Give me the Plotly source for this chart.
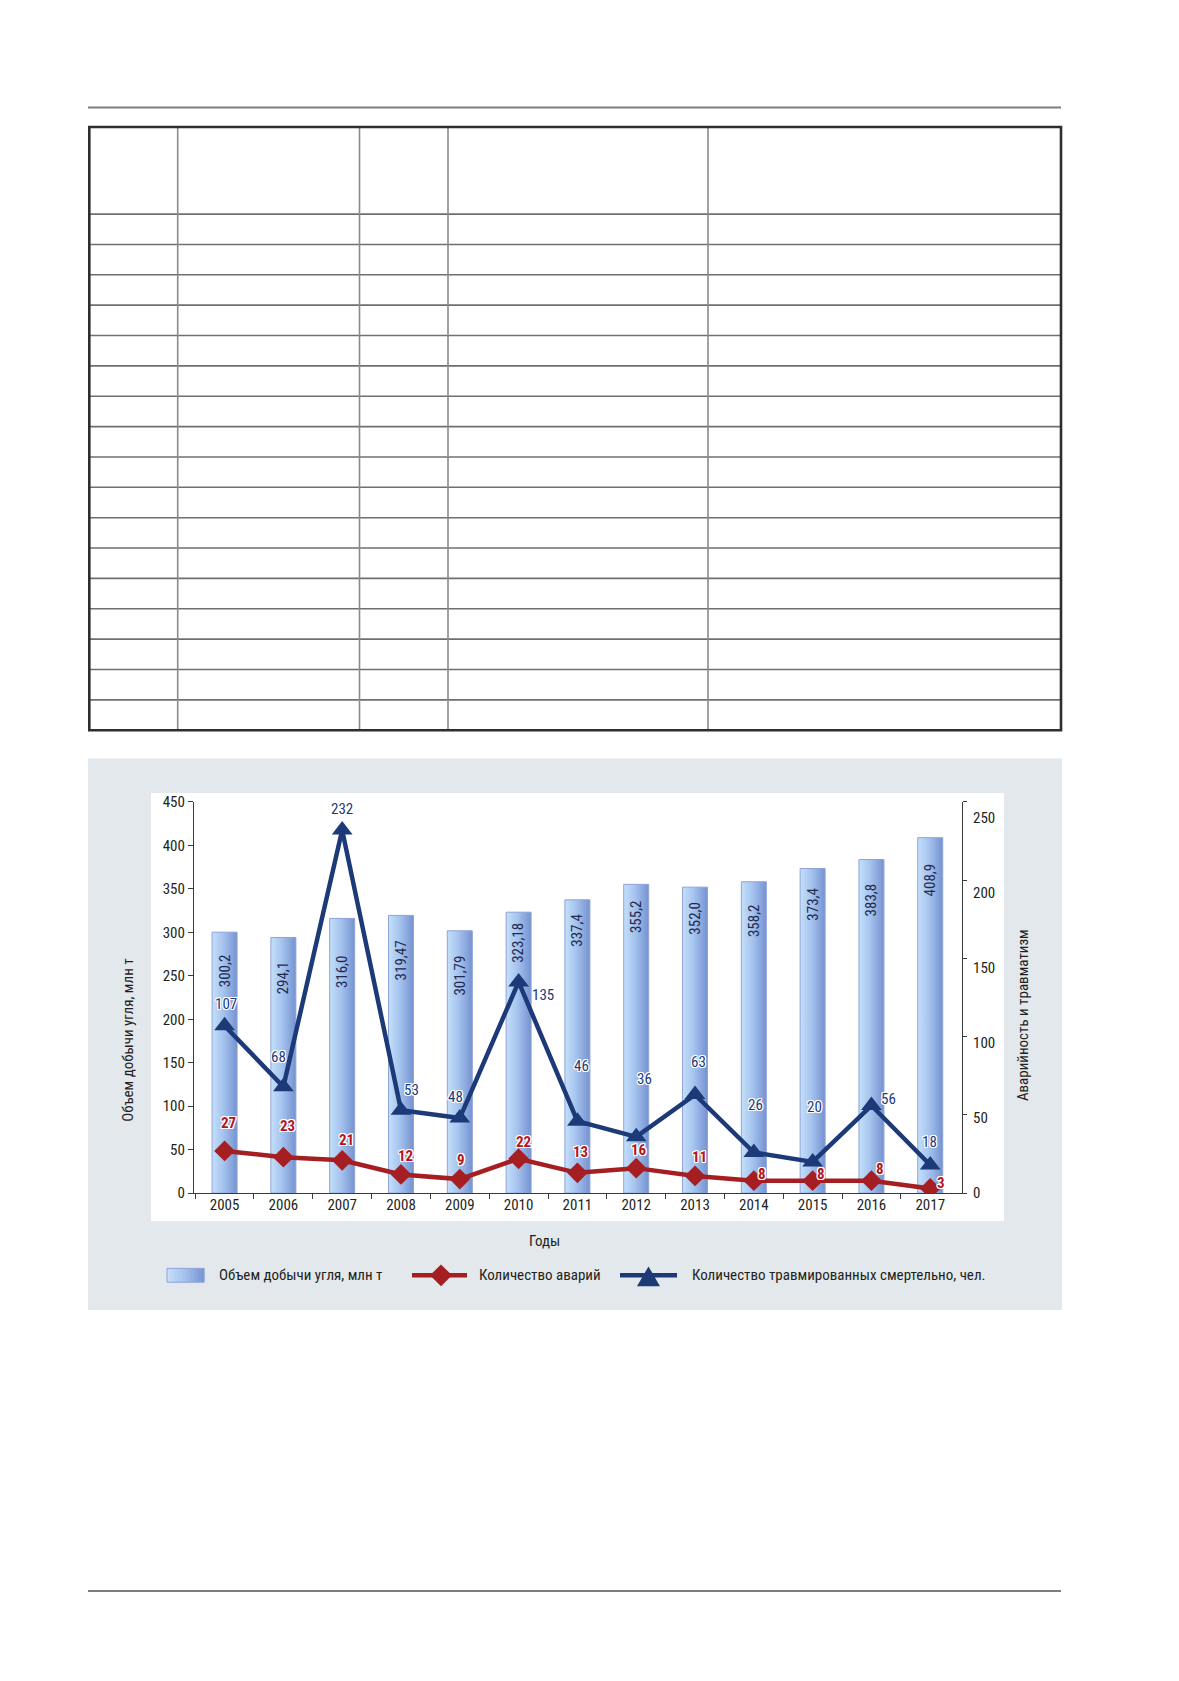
import plotly.graph_objects as go

# ---------------- data ----------------
years = ["2005", "2006", "2007", "2008", "2009", "2010", "2011",
         "2012", "2013", "2014", "2015", "2016", "2017"]
coal_output = [300.2, 294.1, 316.0, 319.47, 301.79, 323.18, 337.4,
               355.2, 352.0, 358.2, 373.4, 383.8, 408.9]
coal_labels = ["300,2", "294,1", "316,0", "319,47", "301,79", "323,18", "337,4",
               "355,2", "352,0", "358,2", "373,4", "383,8", "408,9"]
accidents = [27, 23, 21, 12, 9, 22, 13, 16, 11, 8, 8, 8, 3]
fatalities = [107, 68, 232, 53, 48, 135, 46, 36, 63, 26, 20, 56, 18]

y_left_ticks = [0, 50, 100, 150, 200, 250, 300, 350, 400, 450]
y_right_ticks = [0, 50, 100, 150, 200, 250]

# ---------------- styling (not data) ----------------
W, H = 1179, 1681
FONT = ("Roboto Condensed, Liberation Sans Narrow, Noto Sans Condensed, "
        "DejaVu Sans Condensed, Arial Narrow, sans-serif")
TXT = "#231f20"
AX = "#3a3a3a"
NAVY = "#1d3a78"
RED = "#a51e22"
BAR_DARK = "#7592d0"
BAR_LIGHT = "#c4e0fa"
BAR_MID = "#a5c3ee"
HALO = ("-1px -1px 0 #fff, 1px -1px 0 #fff, -1px 1px 0 #fff, 1px 1px 0 #fff, "
        "0 1px 0 #fff, 0 -1px 0 #fff, 1px 0 0 #fff, -1px 0 0 #fff")
FS = 15

bar_half = 0.2125
bar_label_gap = [20, 22, 35, 23, 23, 9, 12, 14, 13, 20, 17, 22, 24]
# label offsets in pixels (dx right, dy down) relative to markers
fat_off = [(1, -22), (-5, -30), (0, -21), (10, -20), (-4, -21), (24, 13), (4, -55),
           (8, -58), (3, -33), (2, -47), (2, -55), (17, -7), (-1, -23)]
acc_off = [(4, -28), (4, -31), (4, -20), (4, -18), (1, -19), (5, -17), (3, -21),
           (3, -18), (4, -19), (8, -7), (8, -7), (9, -12), (11, -5)]


def px(x):
    return x / W


def py(y):
    return 1 - y / H


fig = go.Figure()
idx = list(range(len(years)))

# bars as gradient-filled polygons
for i, v in zip(idx, coal_output):
    l, r = i - bar_half, i + bar_half
    fig.add_trace(go.Scatter(
        x=[l, r, r, l, l], y=[0, 0, v, v, 0],
        mode="lines", fill="toself",
        line=dict(color="#8ea3d8", width=1),
        fillgradient=dict(type="horizontal", start=l, stop=r,
                          colorscale=[[0, BAR_LIGHT], [0.45, BAR_MID], [1, BAR_DARK]]),
        hoverinfo="skip", showlegend=False, xaxis="x", yaxis="y"))

fig.add_trace(go.Scatter(
    x=idx, y=accidents, mode="lines+markers", name="Количество аварий",
    line=dict(color=RED, width=4.5),
    marker=dict(symbol="diamond", size=16, color=RED),
    showlegend=False, xaxis="x", yaxis="y2"))
fig.add_trace(go.Scatter(
    x=idx, y=fatalities, mode="lines+markers",
    name="Количество травмированных смертельно, чел.",
    line=dict(color=NAVY, width=4.5),
    marker=dict(symbol="triangle-up", size=18, color=NAVY),
    showlegend=False, xaxis="x", yaxis="y2"))
# carrier for right-hand tick labels
fig.add_trace(go.Scatter(x=[0], y=[0], mode="markers", marker=dict(opacity=0),
                         hoverinfo="skip", showlegend=False, xaxis="x", yaxis="y3"))

annotations = []
for i, v, lab, g in zip(idx, coal_output, coal_labels, bar_label_gap):
    annotations.append(dict(x=i, y=v, xref="x", yref="y", text=lab, showarrow=False,
                            textangle=-90, xanchor="center", yanchor="top", yshift=-g,
                            font=dict(family=FONT, size=FS, color="#1f2a4f")))
for i, v, (dx, dy) in zip(idx, fatalities, fat_off):
    annotations.append(dict(x=i, y=v, xref="x", yref="y2", text=str(v), showarrow=False,
                            xanchor="center", yanchor="middle", xshift=dx, yshift=-dy,
                            font=dict(family=FONT, size=FS, color=NAVY, shadow=HALO)))
for i, v, (dx, dy) in zip(idx, accidents, acc_off):
    annotations.append(dict(x=i, y=v, xref="x", yref="y2", text="<b>%d</b>" % v,
                            showarrow=False, xanchor="center", yanchor="middle",
                            xshift=dx, yshift=-dy,
                            font=dict(family=FONT, size=FS, color="#b3161c", shadow=HALO)))


def paper_text(x, y, text, angle=0, xanchor="center"):
    annotations.append(dict(x=px(x), y=py(y), xref="paper", yref="paper", text=text,
                            textangle=angle, showarrow=False, xanchor=xanchor,
                            yanchor="middle",
                            font=dict(family=FONT, size=FS, color=TXT)))


# axis titles and legend texts
paper_text(128, 1043, "Объем добычи угля, млн т", angle=-90)
paper_text(1023, 1017, "Аварийность и травматизм", angle=-90)
paper_text(544, 1245, "Годы")
paper_text(217, 1280, "Объем добычи угля, млн т", xanchor="left")
paper_text(477, 1280, "Количество аварий", xanchor="left")
paper_text(690, 1280, "Количество травмированных смертельно, чел.", xanchor="left")

shapes = []


def rect(x0, y0, x1, y1, fill, line=None, lw=0, layer="below"):
    shapes.append(dict(type="rect", xref="paper", yref="paper", x0=px(x0), x1=px(x1),
                       y0=py(y0), y1=py(y1), fillcolor=fill, layer=layer,
                       line=dict(color=line or fill, width=lw)))


def hline(x0, x1, y, color, w, layer="above"):
    shapes.append(dict(type="line", xref="paper", yref="paper", x0=px(x0), x1=px(x1),
                       y0=py(y), y1=py(y), line=dict(color=color, width=w), layer=layer))


def vline(x, y0, y1, color, w, layer="above"):
    shapes.append(dict(type="line", xref="paper", yref="paper", x0=px(x), x1=px(x),
                       y0=py(y0), y1=py(y1), line=dict(color=color, width=w), layer=layer))


# page rules
hline(88, 1061, 99.5, "#7d7d7d", 2)
hline(88, 1061, 1599, "#7d7d7d", 2)

# empty table grid
t_top, t_head, t_bot = 119.3, 207.3, 729.0
t_left, t_right = 89.3, 1061.0
n_rows = 17
row_h = (t_bot - t_head) / n_rows
for k in range(n_rows):
    hline(t_left, t_right, t_head + k * row_h, "#6f6f6f", 1.6)
for cx in [177.7, 359.5, 448.0, 708.0]:
    vline(cx, t_top, t_bot, "#8a8a8a", 1.6)
shapes.append(dict(type="rect", xref="paper", yref="paper", x0=px(t_left), x1=px(t_right),
                   y0=py(t_top), y1=py(t_bot), line=dict(color="#2e2e2e", width=2.6),
                   fillcolor="rgba(0,0,0,0)"))

# chart panel backgrounds
rect(88, 757.5, 1062, 1315, "#e3e8ec")
rect(151, 792.5, 1004, 1225, "#ffffff")

# legend symbols
sw_x0, sw_x1, sw_y0, sw_y1 = 167, 204, 1273, 1287
n_strip = 14


def mix(c1, c2, t):
    a = [int(c1[k:k + 2], 16) for k in (1, 3, 5)]
    b = [int(c2[k:k + 2], 16) for k in (1, 3, 5)]
    return "rgb(%d,%d,%d)" % tuple(round(a[j] + (b[j] - a[j]) * t) for j in range(3))


for k in range(n_strip):
    t = (k + 0.5) / n_strip
    c = mix(BAR_LIGHT, BAR_MID, t / 0.45) if t < 0.45 else mix(BAR_MID, BAR_DARK, (t - 0.45) / 0.55)
    xa = sw_x0 + (sw_x1 - sw_x0) * k / n_strip
    xb = sw_x0 + (sw_x1 - sw_x0) * (k + 1) / n_strip + 0.4
    rect(xa, sw_y0, xb, sw_y1, c, layer="above")
shapes.append(dict(type="rect", xref="paper", yref="paper", x0=px(sw_x0), x1=px(sw_x1),
                   y0=py(sw_y0), y1=py(sw_y1), line=dict(color="#8ea3d8", width=1),
                   fillcolor="rgba(0,0,0,0)", layer="above"))

hline(412, 467, 1280, RED, 4.5)
shapes.append(dict(type="path", xref="paper", yref="paper", layer="above",
                   path="M %f %f L %f %f L %f %f L %f %f Z" % (
                       px(430), py(1280), px(441), py(1269), px(452), py(1280), px(441), py(1291)),
                   fillcolor=RED, line=dict(color=RED, width=0)))
hline(620, 677, 1280, NAVY, 4.5)
shapes.append(dict(type="path", xref="paper", yref="paper", layer="above",
                   path="M %f %f L %f %f L %f %f Z" % (
                       px(637), py(1291), px(648.5), py(1271), px(660), py(1291)),
                   fillcolor=NAVY, line=dict(color=NAVY, width=0)))

x_dom = [px(194), px(962)]
y_dom = [py(1197), py(801.5)]

fig.update_layout(
    width=W, height=H,
    margin=dict(l=0, r=0, t=0, b=0),
    paper_bgcolor="white", plot_bgcolor="rgba(0,0,0,0)",
    showlegend=False,
    font=dict(family=FONT, size=FS, color=TXT),
    xaxis=dict(domain=x_dom, range=[-0.52, 12.54], tickvals=idx, ticktext=years,
               ticks="", showgrid=False, zeroline=False, showline=True,
               linecolor=AX, linewidth=1.2, ticklabelstandoff=-2,
               tickfont=dict(family=FONT, size=FS, color=TXT),
               minor=dict(tickvals=[-0.5] + [i + 0.5 for i in idx[:-1]], ticks="outside",
                          ticklen=5, tickcolor=AX, tickwidth=1.2, showgrid=False),
               fixedrange=True),
    yaxis=dict(domain=y_dom, range=[0, 450], tickvals=y_left_ticks,
               ticks="outside", ticklen=5, tickcolor=AX, tickwidth=1.2,
               showgrid=False, zeroline=False, showline=True, linecolor=AX, linewidth=1.2,
               tickfont=dict(family=FONT, size=FS, color=TXT), fixedrange=True),
    yaxis2=dict(domain=y_dom, range=[0, 250], overlaying="y", side="right", anchor="x",
                tickvals=y_right_ticks, ticks="outside", ticklen=4, tickcolor=AX, tickwidth=1.2,
                showticklabels=False, showgrid=False, zeroline=False, showline=True,
                linecolor=AX, linewidth=1.2, fixedrange=True),
    yaxis3=dict(domain=y_dom, range=[0, 260.6], overlaying="y", side="right", anchor="x",
                tickvals=y_right_ticks, ticks="", showline=False, showgrid=False,
                zeroline=False, ticklabelstandoff=10,
                tickfont=dict(family=FONT, size=FS, color=TXT), fixedrange=True),
    annotations=annotations,
    shapes=shapes,
)

fig.write_html("out.html",
               config={"displayModeBar": False},
               post_script="document.body.style.margin='0';"
                           "document.body.style.overflow='hidden';")
